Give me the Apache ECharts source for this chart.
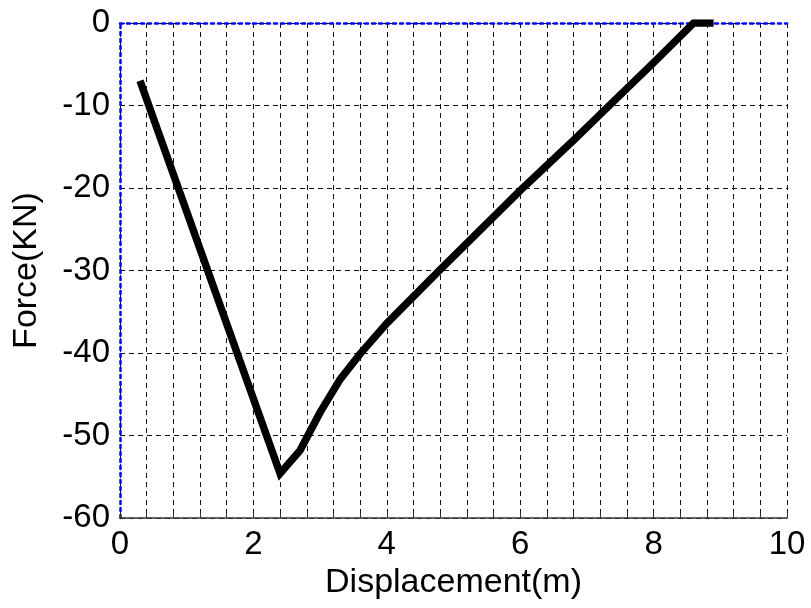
<!DOCTYPE html>
<html>
<head>
<meta charset="utf-8">
<script src="https://cdn.jsdelivr.net/npm/echarts@6/dist/echarts.min.js"></script>
<style>html,body{margin:0;padding:0;background:#fff}#c{width:811px;height:608px}</style>
</head>
<body>
<div id="c"></div>
<script>
const displacement = [0.3, 2.4, 2.7, 3.0, 3.3, 3.6, 4.0, 4.8, 6.0, 6.8, 7.4, 8.0, 8.6, 8.9];
const force = [-7, -54.6, -51.8, -47.2, -43.2, -40.1, -36.4, -29.9, -20.3, -14.2, -9.5, -4.8, 0, 0];
const xTicks = [0, 2, 4, 6, 8, 10];
const yTicks = [-60, -50, -40, -30, -20, -10, 0];

const chart = echarts.init(document.getElementById('c'), null, {renderer: 'canvas'});
const font = 'Liberation Sans, Arial, sans-serif';
const gridDash = {color: '#111', width: 1, type: [5, 4]};
const blueDot = {color: '#0000ff', width: 2.5, type: [3, 4]};
chart.setOption({
  animation: false,
  backgroundColor: '#fff',
  grid: {left: 120, right: 24, top: 23, bottom: 90, containLabel: false, outerBoundsMode: 'none'},
  xAxis: [{
    type: 'value', min: xTicks[0], max: xTicks[xTicks.length - 1], interval: 2,
    name: 'Displacement(m)', nameLocation: 'middle', nameGap: 46,
    nameTextStyle: {fontFamily: font, fontSize: 34, color: '#000'},
    axisLine: {show: true, onZero: false, lineStyle: {color: '#333', width: 1.5}},
    axisTick: {show: true, inside: true, length: 5, lineStyle: {color: '#333'}},
    minorTick: {show: true, splitNumber: 5, length: 5, lineStyle: {color: '#333'}},
    axisLabel: {fontFamily: font, fontSize: 33, color: '#000', margin: 10},
    splitLine: {show: true, lineStyle: gridDash},
    minorSplitLine: {show: true, lineStyle: gridDash}
  }, {
    type: 'value', position: 'top', min: 0, max: 10,
    axisLine: {show: true, onZero: false, lineStyle: blueDot},
    axisTick: {show: false}, axisLabel: {show: false}, splitLine: {show: false}
  }],
  yAxis: {
    type: 'value', min: yTicks[0], max: yTicks[yTicks.length - 1], interval: 10,
    name: 'Force(KN)', nameLocation: 'middle', nameGap: 76, nameRotate: 90,
    nameTextStyle: {fontFamily: font, fontSize: 34, color: '#000'},
    axisLine: {show: true, onZero: false, lineStyle: blueDot},
    axisTick: {show: false},
    axisLabel: {fontFamily: font, fontSize: 33, color: '#000', margin: 10},
    splitLine: {show: true, lineStyle: gridDash}
  },
  series: [{
    type: 'line', xAxisIndex: 0,
    data: displacement.map((x, i) => [x, force[i]]),
    showSymbol: false, symbol: 'none',
    lineStyle: {color: '#000', width: 7.5, join: 'miter'},
    z: 5
  }]
});
</script>
</body>
</html>
